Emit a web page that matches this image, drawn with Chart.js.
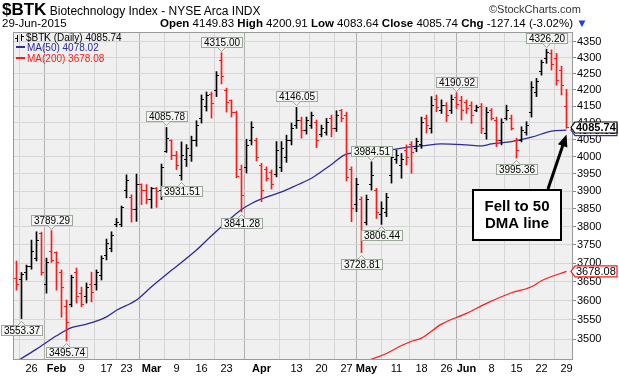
<!DOCTYPE html>
<html>
<head>
<meta charset="utf-8">
<script src="https://cdn.jsdelivr.net/npm/chart.js@4.4.0/dist/chart.umd.min.js"></script>
<style>
html, body { margin: 0; padding: 0; background: #fff; }
#wrap { position: relative; width: 619px; height: 378px; overflow: hidden; font-family: "Liberation Sans", Arial, sans-serif; }
canvas { position: absolute; left: 0; top: 0; }
.t { position: absolute; white-space: nowrap; color: #000; font-size: 11.5px; }
</style>
</head>
<body>
<div id="wrap">
  <canvas id="btk" width="619" height="378"></canvas>
  <div class="t" id="h1" style="left:2px;top:0px;font-size:12px;"></div>
  <div class="t" id="h2" style="left:489px;top:3px;color:#333;font-size:11px;">&copy;StockCharts.com</div>
  <div class="t" id="h3" style="left:2px;top:17px;">29-Jun-2015</div>
  <div class="t" id="h4" style="left:160px;top:17px;"></div>
</div>
<script>
// trading days 21-Jan-2015 .. 29-Jun-2015, index 0..110
var opens = [3660,3655,3676,3692,3714,3782,3642,3733,3728,3676,
  3586,3589,3676,3620,3610,3642,3642,3668,3720,3741,
  3805,3807,3903,3881,3847,3918,3903,3875,3909,3903,
  4016,4046,4004,3946,3990,4004,4048,4114,4150,4184,
  4199,4292,4199,4166,4132,3961,3967,4048,4048,3975,
  3961,3955,3949,3967,3996,4048,4092,4108,4078,4093,
  4102,4066,4072,4114,4084,4138,4123,3961,3861,3875,
  3813,3918,3903,3833,3841,3946,3990,3975,4019,4034,
  4025,4034,4114,4084,4169,4138,4153,4138,4175,4166,
  4162,4153,4138,4150,4069,4138,4108,4048,4114,4114,
  4048,4048,4072,4132,4193,4255,4298,4314,4298,4261,
  4149.83];
var highs = [3706,3675,3695,3763,3786,3785,3714,3789.29,3731,3682,
  3602,3668,3687,3636,3647,3676,3682,3720,3766,3786,
  3823,3858,3947,3890,3949,3921,3919,3911,3911,3978,
  4085.78,4049,4015,4043,4035,4060,4106,4184,4193,4193,
  4256,4315.00,4205,4169,4135,3975,4051,4103,4054,3980,
  3970,3961,4044,4044,4063,4099,4146.05,4117,4117,4132,
  4108,4093,4113,4123,4136,4140,4132,3970,3937,3884,
  3889,3984.51,3908,3870,3894,4014,4019,4009,4034,4044,
  4054,4117,4123,4179,4184,4169,4161,4184,4190.92,4180,
  4169,4163,4153,4158,4146,4143,4117,4112,4153,4123,
  4054,4088,4103,4225,4235,4292,4326.20,4324,4313,4273,
  4200.91];
var lows = [3628,3553.37,3655,3684,3706,3668,3620,3702,3628,3557,
  3495.74,3584,3594,3584,3594,3597,3628,3655,3709,3731,
  3800,3800,3881,3813,3815,3862,3864,3852,3854,3876,
  4012,3991,3962,3931.51,3971,3986,4030,4099,4135,4114,
  4179,4218,4132,4117,3938,3841.28,3952,4034,3987,3870,
  3929,3906,3941,3956,3983,4034,4083,4054,4066,4083,
  4026,4058,4063,4058,4074,4103,3929,3814,3842,3728.81,
  3805,3903,3823,3806.44,3828,3923,3980,3937,3975,3951,
  4014,4024,4069,4069,4133,4128,4103,4128,4143,4108,
  4128,4098,4133,4068,4051,4108,4029,4034,4108,4078,
  3995.36,4043,4063,4117,4179,4245,4282,4261,4214,4184,
  4083.64];
var closes = [3642,3671,3690,3731,3763,3674,3703,3708,3703,3636,
  3542,3663,3610,3589,3636,3623,3674,3714,3755,3777,
  3813,3855,3932,3847,3918,3903,3875,3909,3898,3967,
  4054,4004,3975,4004,4025,4048,4093,4169,4181,4157,
  4245,4242,4162,4132,3941,3889,4031,4087,3996,3903,
  3935,3918,4019,4025,4048,4084,4108,4078,4108,4122,
  4048,4084,4102,4084,4123,4114,3938,3852,3918,3785,
  3875,3946,3841,3852,3883,3996,4004,3990,3998,4013,
  4043,4102,4093,4153,4147,4153,4123,4169,4156,4138,
  4144,4123,4147,4084,4132,4114,4048,4102,4138,4084,
  4019,4078,4093,4208,4224,4283,4317,4277,4230,4212.88,
  4085.74];

// moving averages at a few days
var ma50Idx = [0, 4, 8, 11, 14, 18, 20, 24, 27, 31, 36, 39, 45, 47, 49, 53, 56, 59, 63, 66, 71, 75, 78, 81, 85, 90, 93, 95, 99, 103, 107, 110];
var ma50Val = [3444, 3475, 3509, 3530, 3539, 3558, 3575, 3602, 3637, 3681, 3736, 3775, 3848, 3865, 3878, 3898, 3917, 3937, 3977, 4007, 4014, 4020, 4027, 4031, 4037, 4034, 4031, 4037, 4044, 4057, 4075, 4078.02];
var ma200Idx = [70, 74, 77, 79, 81, 85, 90, 94, 99, 103, 105, 110];
var ma200Val = [3445, 3464, 3484, 3495, 3503, 3539, 3567, 3593, 3621, 3637, 3653, 3678.08];

var tickIdx = [3, 8, 13, 18, 22, 27, 32, 37, 42, 49, 56, 61, 66, 70, 76, 81, 86, 90, 95, 100, 105, 110];
var tickText = ['26', 'Feb', '9', '17', '23', 'Mar', '9', '16', '23', 'Apr', '13', '20', '27', 'May', '11', '18', '26', 'Jun', '8', '15', '22', '29'];
var monthIdx = [8, 27, 49, 70, 90];
var yTicks = [3500, 3550, 3600, 3650, 3700, 3750, 3800, 3850, 3900, 3950, 4000, 4050, 4100, 4150, 4200, 4250, 4300, 4350];

var peakIdx = [7, 30, 41, 56, 71, 88, 106];
var troughIdx = [1, 10, 33, 45, 69, 73, 100];

var FONT = '"Liberation Sans", Arial, sans-serif';
var NAVY = '#2b2b9a';
var RED = '#ff1a1a';

var last = closes.length - 1;
var chg = closes[last] - closes[last - 1];
document.getElementById('h1').innerHTML = '<b style="font-size:17px">$BTK</b> Biotechnology Index - NYSE Arca INDX';
document.getElementById('h4').innerHTML = '<b>Open</b> ' + opens[last].toFixed(2) + ' <b>High</b> ' + highs[last].toFixed(2) +
  ' <b>Low</b> ' + lows[last].toFixed(2) + ' <b>Close</b> ' + closes[last].toFixed(2) +
  ' <b>Chg</b> ' + chg.toFixed(2) + ' (' + (chg / closes[last - 1] * 100).toFixed(2) + '%) <span style="color:#2040e0">&#9660;</span>';

var bars = [], barColors = [];
for (var i = 0; i < closes.length; i++) {
  bars.push({x: i, y: [lows[i], highs[i]]});
  barColors.push(closes[i] < opens[i] ? RED : '#000');
}
var ma50 = ma50Idx.map(function (v, k) { return {x: v, y: ma50Val[k]}; });
var ma200 = ma200Idx.map(function (v, k) { return {x: v, y: ma200Val[k]}; });

var bgPlugin = {
  id: 'bg',
  beforeDraw: function (chart) {
    var c = chart.ctx, a = chart.chartArea;
    c.save();
    c.fillStyle = '#fff';
    c.fillRect(0, 0, chart.width, chart.height);
    c.fillStyle = '#f0f0f0';
    c.fillRect(a.left, a.top, a.right - a.left, a.bottom - a.top);
    c.restore();
  }
};

function callout(c, cx, yEdge, text, up) {
  c.font = '10px ' + FONT;
  var w = Math.round(c.measureText(text).width) + 5, h = 10;
  var left = Math.round(cx - w / 2) + 0.5;
  var top = up ? Math.round(yEdge - 6 - h) + 0.5 : Math.round(yEdge + 6) + 0.5;
  c.fillStyle = '#f4f6f4';
  c.strokeStyle = '#9aa89a';
  c.lineWidth = 1;
  c.fillRect(left, top, w, h);
  c.strokeRect(left, top, w, h);
  c.beginPath();
  if (up) {
    c.moveTo(cx - 4, top + h); c.lineTo(cx, top + h + 4); c.lineTo(cx + 4, top + h);
  } else {
    c.moveTo(cx - 4, top); c.lineTo(cx, top - 4); c.lineTo(cx + 4, top);
  }
  c.fillStyle = '#f4f6f4';
  c.fill();
  c.stroke();
  c.fillStyle = '#000';
  c.textBaseline = 'middle';
  c.textAlign = 'center';
  c.fillText(text, left + w / 2, top + h / 2 + 0.5);
}

function valueBox(c, x0, yc, text, border, bold) {
  var w = 42, h = 11;
  c.beginPath();
  c.moveTo(x0, yc);
  c.lineTo(x0 + 4, yc - h / 2);
  c.lineTo(x0 + 4 + w, yc - h / 2);
  c.lineTo(x0 + 4 + w, yc + h / 2);
  c.lineTo(x0 + 4, yc + h / 2);
  c.closePath();
  c.fillStyle = '#fff';
  c.fill();
  c.strokeStyle = border;
  c.lineWidth = 1.2;
  c.stroke();
  c.fillStyle = '#000';
  c.font = (bold ? 'bold ' : '') + '11px ' + FONT;
  c.textAlign = 'left';
  c.textBaseline = 'middle';
  c.fillText(text, x0 + 5, yc + 0.5);
}

var ohlcPlugin = {
  id: 'ohlc',
  afterDatasetsDraw: function (chart) {
    var c = chart.ctx, a = chart.chartArea, xs = chart.scales.x, ys = chart.scales.y;
    c.save();
    // open / close ticks
    for (var i = 0; i < closes.length; i++) {
      var px = xs.getPixelForValue(i);
      c.fillStyle = barColors[i];
      c.fillRect(px - 2.5, Math.round(ys.getPixelForValue(opens[i]) - 0.5), 2, 1);
      c.fillRect(px + 0.5, Math.round(ys.getPixelForValue(closes[i]) - 0.5), 2, 1);
    }
    // frame
    c.strokeStyle = '#9a9a9a';
    c.lineWidth = 1;
    c.strokeRect(a.left + 0.5, a.top + 0.5, a.right - a.left - 1, a.bottom - a.top);
    // legend
    c.textAlign = 'left';
    c.textBaseline = 'alphabetic';
    c.font = '10px ' + FONT;
    c.fillStyle = '#000';
    c.fillRect(17, 35, 1, 7); c.fillRect(15, 38, 2, 1);
    c.fillRect(21, 34, 1, 7); c.fillRect(22, 36, 2, 1);
    c.fillText('$BTK (Daily) ' + closes[last].toFixed(2), 26, 41);
    c.fillStyle = NAVY;
    c.fillRect(16, 46, 9, 2);
    c.fillText('MA(50) ' + ma50Val[ma50Val.length - 1].toFixed(2), 27, 51);
    c.fillStyle = RED;
    c.fillRect(16, 57, 9, 2);
    c.fillText('MA(200) ' + ma200Val[ma200Val.length - 1].toFixed(2), 27, 62);
    // peak / trough labels
    peakIdx.forEach(function (k) {
      callout(c, xs.getPixelForValue(k), ys.getPixelForValue(highs[k]), highs[k].toFixed(2), true);
    });
    troughIdx.forEach(function (k) {
      callout(c, xs.getPixelForValue(k), ys.getPixelForValue(lows[k]), lows[k].toFixed(2), false);
    });
    // right side value boxes
    valueBox(c, a.right - 2, ys.getPixelForValue(ma200Val[ma200Val.length - 1]), ma200Val[ma200Val.length - 1].toFixed(2), RED, false);
    valueBox(c, a.right - 2, ys.getPixelForValue(ma50Val[ma50Val.length - 1]), ma50Val[ma50Val.length - 1].toFixed(2), NAVY, false);
    valueBox(c, a.right - 2, ys.getPixelForValue(closes[last]), closes[last].toFixed(2), '#000', true);
    // annotation
    c.fillStyle = '#fff';
    c.fillRect(473, 190, 88, 50);
    c.strokeStyle = '#000';
    c.lineWidth = 2;
    c.strokeRect(473, 190, 88, 50);
    c.fillStyle = '#000';
    c.font = 'bold 15px ' + FONT;
    c.textAlign = 'center';
    c.textBaseline = 'middle';
    c.fillText('Fell to 50', 517, 207);
    c.fillText('DMA line', 517, 224);
    var tx = xs.getPixelForValue(last), ty = ys.getPixelForValue(closes[last]) + 7;
    var sx = 548, sy = 189;
    var ang = Math.atan2(ty - sy, tx - sx);
    c.lineWidth = 3;
    c.beginPath();
    c.moveTo(sx, sy);
    c.lineTo(tx - 9 * Math.cos(ang), ty - 9 * Math.sin(ang));
    c.stroke();
    c.beginPath();
    c.moveTo(tx, ty);
    c.lineTo(tx - 12 * Math.cos(ang) + 5 * Math.sin(ang), ty - 12 * Math.sin(ang) - 5 * Math.cos(ang));
    c.lineTo(tx - 12 * Math.cos(ang) - 5 * Math.sin(ang), ty - 12 * Math.sin(ang) + 5 * Math.cos(ang));
    c.closePath();
    c.fill();
    c.restore();
  }
};

var ctx = document.getElementById('btk').getContext('2d');
var btkChart = new Chart(ctx, {
  data: {
    datasets: [
      {type: 'bar', data: bars, backgroundColor: barColors, barThickness: 1, grouped: false, order: 0},
      {type: 'line', data: ma50, borderColor: NAVY, borderWidth: 1.3, pointRadius: 0, cubicInterpolationMode: 'monotone', order: 1},
      {type: 'line', data: ma200, borderColor: RED, borderWidth: 1.2, pointRadius: 0, cubicInterpolationMode: 'monotone', order: 2}
    ]
  },
  options: {
    responsive: false,
    animation: false,
    events: [],
    layout: {padding: {top: 32, left: 13, right: 0, bottom: 0}},
    plugins: {legend: {display: false}, tooltip: {enabled: false}},
    scales: {
      x: {
        type: 'linear', min: -0.7, max: 111.3, bounds: 'data', offset: false,
        afterBuildTicks: function (s) { s.ticks = tickIdx.map(function (v) { return {value: v}; }); },
        afterFit: function (s) { s.height = 19; },
        grid: {
          drawTicks: false,
          color: function (c) { return c.tick && monthIdx.indexOf(c.tick.value) >= 0 ? '#b0b0b0' : '#d6d6d6'; }
        },
        border: {display: false},
        ticks: {
          padding: 3, autoSkip: false, maxRotation: 0, color: '#000',
          font: function (c) {
            return {family: FONT, size: 11, weight: c.tick && monthIdx.indexOf(c.tick.value) >= 0 ? 'bold' : 'normal'};
          },
          callback: function (v) { var k = tickIdx.indexOf(v); return k >= 0 ? tickText[k] : ''; }
        }
      },
      y: {
        type: 'logarithmic', position: 'right', min: 3450, max: 4381, bounds: 'data',
        afterBuildTicks: function (s) { s.ticks = yTicks.map(function (v) { return {value: v}; }); },
        afterFit: function (s) { s.width = 46; },
        grid: {color: '#d6d6d6', tickLength: 3, tickColor: '#888'},
        border: {display: false},
        ticks: {padding: 1, autoSkip: false, color: '#000', font: {family: FONT, size: 11},
          callback: function (v) { return String(v); }}
      }
    }
  },
  plugins: [bgPlugin, ohlcPlugin]
});
</script>
</body>
</html>
